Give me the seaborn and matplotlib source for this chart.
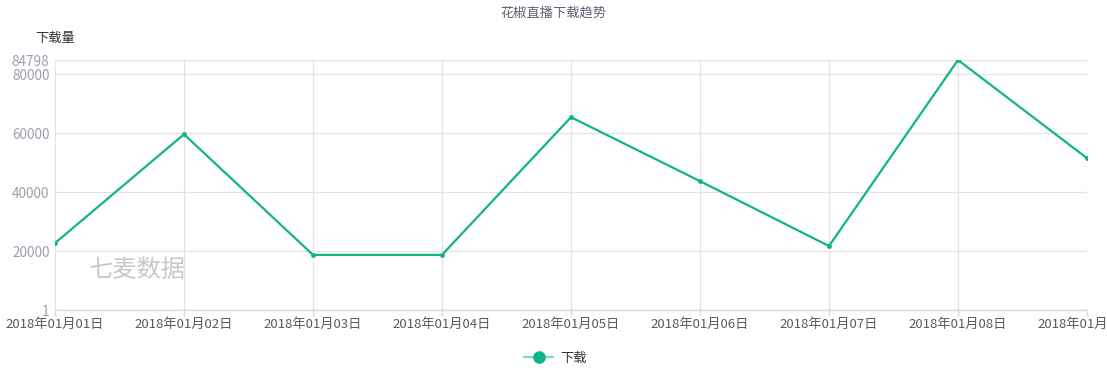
import matplotlib
matplotlib.use("Agg")
import matplotlib.pyplot as plt
import seaborn as sns
import pandas as pd

dates = ["2018年01月01日", "2018年01月02日", "2018年01月03日", "2018年01月04日",
         "2018年01月05日", "2018年01月06日", "2018年01月07日", "2018年01月08日",
         "2018年01月09日"]
downloads = [22700, 59600, 18700, 18700, 65400, 43700, 21700, 84798, 51500]
y_ticks = [1, 20000, 40000, 60000, 80000, 84798]

sns.set_theme(style="white")
plt.rcParams['font.family'] = ['Noto Sans CJK SC', 'DejaVu Sans']

df = pd.DataFrame({"date": dates, "下载": downloads})

fig = plt.figure(figsize=(11.07, 3.70), dpi=100)
ax = fig.add_axes([55/1107, 60/370, (1087-55)/1107, (310-60)/370])

color = "#10b488"
sns.lineplot(data=df, x="date", y="下载", ax=ax, color=color, linewidth=1.6,
             marker="o", markersize=3.5, markeredgewidth=0, sort=False, label="下载")

ax.set_xlim(0, len(dates) - 1)
ax.set_ylim(1, 84798)
ax.set_yticks(y_ticks)
ax.set_yticklabels([str(v) for v in y_ticks])
ax.set_xticks(range(len(dates)))
ax.set_xticklabels(dates)

ax.grid(True, color="#e3e3e3", linewidth=0.9)
ax.set_axisbelow(True)
for s in ["top", "right", "left"]:
    ax.spines[s].set_visible(False)
ax.spines["bottom"].set_color("#d9d9d9")
ax.spines["bottom"].set_linewidth(1)

ax.tick_params(axis="y", colors="#9aa0ae", labelsize=9.8, length=0, pad=4)
ax.tick_params(axis="x", colors="#d9d9d9", labelcolor="#5a5a5a", labelsize=9.5,
               length=4, width=1, direction="out", pad=2, bottom=True)
for lbl in ax.get_xticklabels():
    lbl.set_clip_on(False)

ax.set_xlabel("")
ax.set_ylabel("")

fig.text(0.5, 1 - 13/370, "花椒直播下载趋势", ha="center", va="center",
         fontsize=9.5, color="#5a6170")
fig.text(55/1107, 1 - 38/370, "下载量", ha="center", va="center",
         fontsize=9.5, color="#333333")

ax.text(0.033, 0.16, "七麦数据", transform=ax.transAxes, fontsize=17.5,
        color="#c8c8c8", style="italic", ha="left", va="center")

leg = ax.legend(loc="center", bbox_to_anchor=(0.485, -(358-310)/250), frameon=False,
                fontsize=9.5, handlelength=2.2, handletextpad=0.5, markerscale=2.6)
for t in leg.get_texts():
    t.set_color("#333333")
for ln in leg.get_lines():
    ln.set_color("#7fd8bf")
    ln.set_markerfacecolor(color)
    ln.set_markeredgecolor(color)

fig.savefig("out.png", dpi=100)
